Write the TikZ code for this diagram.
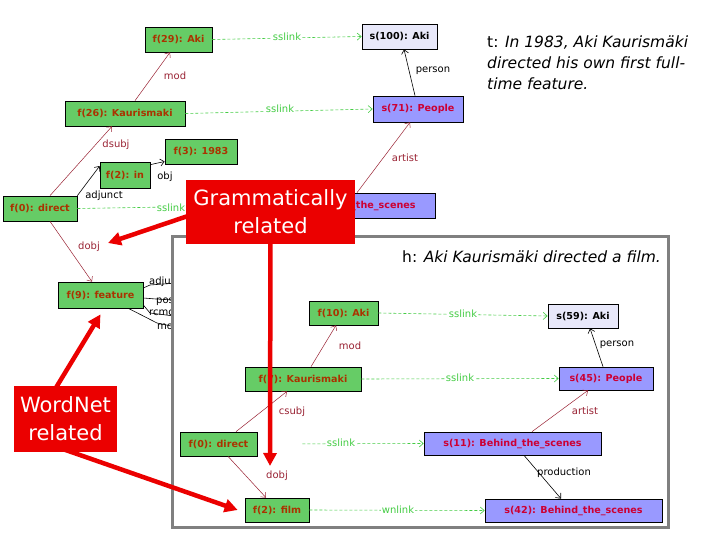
\documentclass[tikz,border=0pt]{standalone}
\usepackage{fontspec}
\setmainfont{DejaVu Sans}
\usetikzlibrary{arrows.meta,calc}
\definecolor{gfill}{RGB}{102,204,102}
\definecolor{gtext}{RGB}{170,51,0}
\definecolor{bfill}{RGB}{153,153,255}
\definecolor{btext}{RGB}{204,0,51}
\definecolor{lfill}{RGB}{232,232,250}
\definecolor{redge}{RGB}{153,34,51}
\definecolor{glink}{RGB}{68,204,68}
\definecolor{callred}{RGB}{235,0,0}
\definecolor{hgray}{RGB}{128,128,128}
\pgfdeclarelayer{front}
\pgfsetlayers{main,front}
\tikzset{
  box/.style={draw=black, line width=0.7pt, inner sep=0pt, font=\fontsize{9.6}{11}\selectfont\bfseries},
  gbox/.style={box, fill=gfill, text=gtext},
  bbox/.style={box, fill=bfill, text=btext},
  lbox/.style={box, fill=lfill, text=black},
  tipA/.style={-{Straight Barb[length=4pt,width=7pt]}},
  rel/.style={draw=redge, line width=0.5pt, tipA},
  blk/.style={draw=black, line width=0.6pt, tipA},
  lnk/.style={draw=glink, line width=0.6pt, dash pattern=on 3pt off 2pt, tipA},
  plain/.style={draw=black, line width=0.6pt},
  labbase/.style={font=\fontsize{10}{12}\selectfont, inner sep=1pt},
  rlab/.style={labbase, text=redge},
  klab/.style={labbase, text=black},
  glab/.style={labbase, text=glink, fill=white},
  big/.style={draw=callred, line width=4.5pt, -{Triangle[length=13pt,width=13pt]}},
  callout/.style={fill=callred, text=white, align=center, inner sep=0pt, font=\fontsize{21}{28}\selectfont},
}
\begin{document}
\begin{tikzpicture}[x=1pt,y=-1pt]
\useasboundingbox (0,0) rectangle (720,540);

% ---------- top graph (t) ----------
\node[gbox, minimum width=67pt, minimum height=25pt] (f29) at (178.5,39.5) {f(29): Aki};
\node[lbox, minimum width=75pt, minimum height=25pt] (s100) at (399.5,36.5) {s(100): Aki};
\node[gbox, minimum width=120pt, minimum height=25pt] (f26) at (125,113.5) {f(26): Kaurismaki};
\node[bbox, minimum width=90pt, minimum height=26pt] (s71) at (418,109) {s(71): People};
\node[gbox, minimum width=72pt, minimum height=25pt] (f3) at (201,151.5) {f(3): 1983};
\node[gbox, minimum width=50pt, minimum height=26pt] (f2in) at (125,175) {f(2): in};
\node[gbox, minimum width=74pt, minimum height=25pt] (f0t) at (40,208.5) {f(0): direct};
\node[bbox, minimum width=177pt, minimum height=25pt] (sbt) at (346.5,205.5) {s(76): Behind\_the\_scenes};
\node[gbox, minimum width=85pt, minimum height=26pt] (f9) at (100.5,295) {f(9): feature};

\node[anchor=north west, align=left, inner sep=0pt, font=\fontsize{15.5}{21}\selectfont] (ttext) at (487,36)
  {t: \textit{In 1983, Aki Kaurismäki}\\\textit{directed his own first full-}\\\textit{time feature.}};

\draw[lnk] (f29.east) -- (s100.west);
\node[glab] (lss1) at (287,37) {sslink};
\draw[rel] ([xshift=10pt]f26.north) -- ([xshift=-8.5pt]f29.south);
\node[rlab] (lmod1) at (175,76) {mod};
\draw[blk] ([xshift=-3pt]s71.north) -- ([xshift=4.5pt]s100.south);
\node[klab] (lper1) at (433,71) {person};
\draw[lnk] (f26.east) -- (s71.west);
\node[glab] (lss2) at (280,109) {sslink};
\draw[rel] ([xshift=10pt]f0t.north) -- ([xshift=-13pt]f26.south);
\node[rlab] (ldsubj) at (116,145) {dsubj};
\draw[blk] (f0t.north east) -- ([yshift=9pt]f2in.west);
\node[klab] (ladj) at (104,196) {adjunct};
\draw[blk] ([yshift=-3pt]f2in.north east) -- ([yshift=-10pt]f3.west);
\node[klab] (lobj) at (165,177) {obj};
\draw[lnk] (f0t.east) -- (sbt.west);
\node[glab] (lss3) at (171,208) {sslink};
\draw[rel] ([xshift=10.5pt]sbt.north) -- ([xshift=-8pt]s71.south);
\node[rlab] (lart1) at (405,158) {artist};
\draw[rel] ([xshift=10pt]f0t.south) -- ([xshift=-8.5pt]f9.north);
\node[rlab] (ldobj1) at (89,247) {dobj};

\coordinate (c1) at (150,285);
\coordinate (c2) at (156,299);
\coordinate (c3) at (150,313);
\coordinate (c4) at (157,323);
\draw[plain] ([yshift=7pt]f9.east) -- (c1) -- (190,282);
\draw[plain] ([yshift=-3pt]f9.east) -- (c2) -- (190,301);
\draw[plain] ([yshift=-10pt]f9.east) -- (c3) -- (190,318);
\draw[plain] ([xshift=-15pt]f9.south east) -- (c4) -- (190,330);
\node[klab, anchor=west] (la1) at (148,282) {adjunct};
\node[klab, anchor=west] (la2) at (155,302) {poss};
\node[klab, anchor=west] (la3) at (148,312) {rcmod};
\node[klab, anchor=west] (la4) at (156,326) {mod};

% ---------- hypothesis frame ----------
\node[draw=hgray, line width=3pt, fill=white, inner sep=0pt, minimum width=496pt, minimum height=291pt] (hframe) at (420,381.5) {};

\node[anchor=base west, inner sep=0pt, font=\fontsize{15.5}{19}\selectfont] (htext) at (402,262)
  {h: \textit{Aki Kaurismäki directed a film.}};

\node[gbox, minimum width=69pt, minimum height=24pt] (f10) at (343.5,313) {f(10): Aki};
\node[lbox, minimum width=70pt, minimum height=24pt] (s59) at (583,316) {s(59): Aki};
\node[gbox, minimum width=116pt, minimum height=24pt] (f7) at (303,379) {f(7): Kaurismaki};
\node[bbox, minimum width=94pt, minimum height=23pt] (s45) at (606,378.5) {s(45): People};
\node[gbox, minimum width=77pt, minimum height=24pt] (f0b) at (218.5,444) {f(0): direct};
\node[bbox, minimum width=177pt, minimum height=23pt] (s11) at (512.5,443.5) {s(11): Behind\_the\_scenes};
\node[gbox, minimum width=64pt, minimum height=24pt] (film) at (277,510) {f(2): film};
\node[bbox, minimum width=177pt, minimum height=23pt] (s42) at (573.5,510.5) {s(42): Behind\_the\_scenes};

\draw[lnk] (f10.east) -- (s59.west);
\node[glab] (lss4) at (463,314) {sslink};
\draw[rel] ([xshift=8pt]f7.north) -- ([xshift=-7.5pt]f10.south);
\node[rlab] (lmod2) at (350,346) {mod};
\draw[blk] ([xshift=-3pt]s45.north) -- ([xshift=7pt]s59.south);
\node[klab] (lper2) at (617,345) {person};
\draw[lnk] (f7.east) -- (s45.west);
\node[glab] (lss5) at (460,378) {sslink};
\draw[rel] ([xshift=17.5pt]f0b.north) -- ([xshift=-16pt]f7.south);
\node[rlab] (lcsubj) at (292,412) {csubj};
\draw[rel] ([xshift=19.5pt]s11.north) -- ([xshift=-18pt]s45.south);
\node[rlab] (lart2) at (585,411) {artist};
\draw[lnk, shorten <=45pt] (f0b.east) -- (s11.west);
\node[glab] (lss6) at (341,443) {sslink};
\draw[rel] ([xshift=9.5pt]f0b.south) -- ([xshift=-11pt]film.north);
\node[rlab] (ldobj2) at (277,476) {dobj};
\draw[blk] ([xshift=11.5pt]s11.south) -- ([xshift=-12.5pt]s42.north);
\node[klab] (lprod) at (564,473) {production};
\draw[lnk] (film.east) -- (s42.west);
\node[glab] (lwn) at (398,510) {wnlink};

% ---------- callouts ----------
\begin{pgfonlayer}{front}
\node[callout, minimum width=169pt, minimum height=64pt] (gram) at (270.5,212) {Grammatically\\related};
\node[callout, minimum width=103pt, minimum height=66pt] (wn) at (65.5,419) {WordNet\\related};
\end{pgfonlayer}

\coordinate (gtip) at (108,243);
\coordinate (gdown) at (270,466);
\draw[big] ([xshift=14pt]gram.west) -- (gtip);
\draw[big] (gram.center) -- (gdown);
\draw[big] ($(wn.center)+(-17,-19)$) -- ([yshift=-6pt]f9.south);
\draw[big] ($(wn.center)+(-20,24)$) -- ([xshift=-7pt]film.west);
\end{tikzpicture}
\end{document}
